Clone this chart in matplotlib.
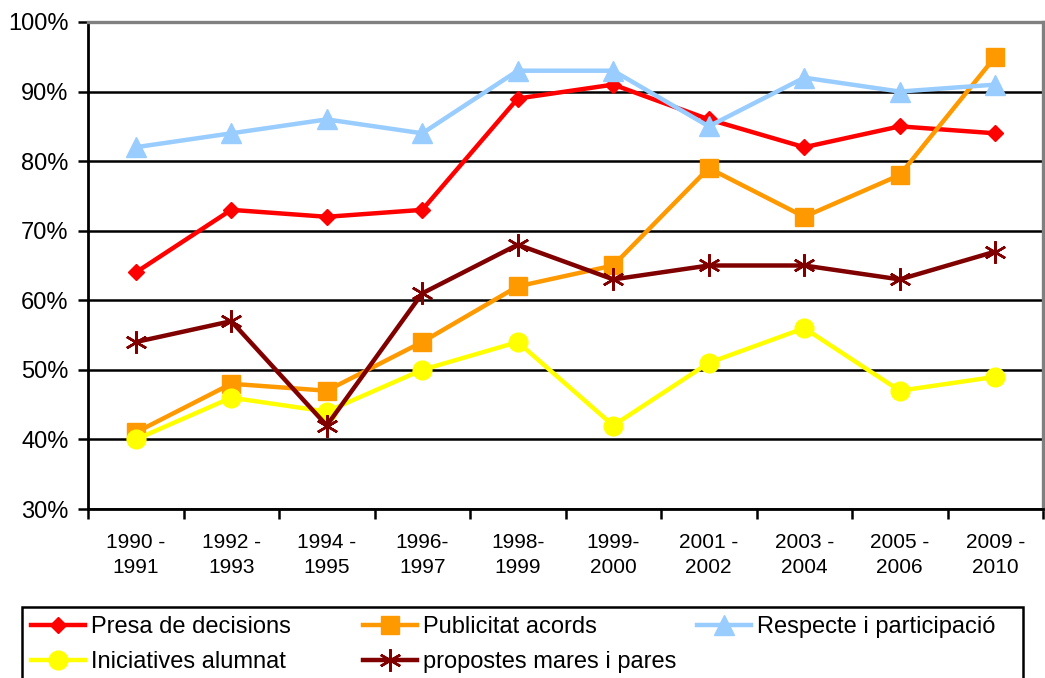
import matplotlib
matplotlib.use("Agg")
import matplotlib.pyplot as plt
from matplotlib.patches import Rectangle
from matplotlib.ticker import FixedLocator, PercentFormatter, NullFormatter

plt.rcParams['font.family'] = ['Liberation Sans', 'DejaVu Sans']

periods = ["1990 -\n1991", "1992 -\n1993", "1994 -\n1995", "1996-\n1997",
           "1998-\n1999", "1999-\n2000", "2001 -\n2002", "2003 -\n2004",
           "2005 -\n2006", "2009 -\n2010"]
presa = [64, 73, 72, 73, 89, 91, 86, 82, 85, 84]
publicitat = [41, 48, 47, 54, 62, 65, 79, 72, 78, 95]
respecte = [82, 84, 86, 84, 93, 93, 85, 92, 90, 91]
iniciatives = [40, 46, 44, 50, 54, 42, 51, 56, 47, 49]
propostes = [54, 57, 42, 61, 68, 63, 65, 65, 63, 67]
names = ["Presa de decisions", "Publicitat acords", "Respecte i participació",
         "Iniciatives alumnat", "propostes mares i pares"]
y_ticks = [30, 40, 50, 60, 70, 80, 90, 100]

W, H = 1045, 678
fig = plt.figure(figsize=(W / 100, H / 100), dpi=100)
ax = fig.add_axes([88 / W, 1 - 509 / H, 955 / W, 487 / H])

x = list(range(len(periods)))
styles = [
    dict(color="#FF0000", marker="D", ms=8.5, mec="#FF0000", mfc="#FF0000", mew=1),
    dict(color="#FF9900", marker="s", ms=12.5, mec="#FF9900", mfc="#FF9900", mew=1),
    dict(color="#99CCFF", marker="^", ms=15, mec="#99CCFF", mfc="#99CCFF", mew=1),
    dict(color="#FFFF00", marker="o", ms=13.5, mec="#FFFF00", mfc="#FFFF00", mew=1),
    dict(color="#800000", marker=(6, 2, 0), ms=16, mec="#800000", mfc="#800000", mew=1.8),
]
data = [presa, publicitat, respecte, iniciatives, propostes]
lines = []
for vals, st, nm in zip(data, styles, names):
    ln, = ax.plot(x, vals, lw=3.2, label=nm, clip_on=False, **st)
    lines.append(ln)

ax.set_xlim(-0.5, len(periods) - 0.5)
ax.set_ylim(y_ticks[0], y_ticks[-1])
ax.yaxis.set_major_locator(FixedLocator(y_ticks))
ax.yaxis.set_major_formatter(PercentFormatter(decimals=0))
ax.yaxis.grid(True, color="black", lw=1.8)
ax.set_axisbelow(True)

ax.set_xticks(x)
ax.set_xticklabels(periods, fontsize=15, linespacing=1.4)
ax.set_xticks([i - 0.5 for i in range(len(periods) + 1)], minor=True)
ax.xaxis.set_minor_formatter(NullFormatter())
ax.tick_params(axis="x", which="major", length=0, pad=17)
ax.tick_params(axis="x", which="minor", length=7, width=1.8, color="black", direction="out")
ax.tick_params(axis="y", which="major", length=7, width=1.8, color="black",
               direction="out", labelsize=17, pad=7)

for s in ["left", "bottom"]:
    ax.spines[s].set_color("black")
    ax.spines[s].set_linewidth(2)
for s in ["top", "right"]:
    ax.spines[s].set_color("#808080")
    ax.spines[s].set_linewidth(2.4)

# legend frame
fig.patches.append(Rectangle((22 / W, -0.05), (1023 - 22) / W, 1 - 607 / H + 0.05,
                             transform=fig.transFigure, fill=False,
                             edgecolor="black", lw=1.8, zorder=5))

cols = [([lines[0], lines[3]], 31), ([lines[1], lines[4]], 363), ([lines[2]], 697)]
for hs, xpx in cols:
    lg = fig.legend(handles=hs, labels=[h.get_label() for h in hs],
                    loc="upper left", bbox_to_anchor=(xpx / W, 1 - 616 / H),
                    bbox_transform=fig.transFigure, frameon=False,
                    fontsize=17, borderpad=0, borderaxespad=0,
                    handlelength=2.3, handletextpad=0.25, labelspacing=0.55)

fig.savefig("out.png", dpi=100)
